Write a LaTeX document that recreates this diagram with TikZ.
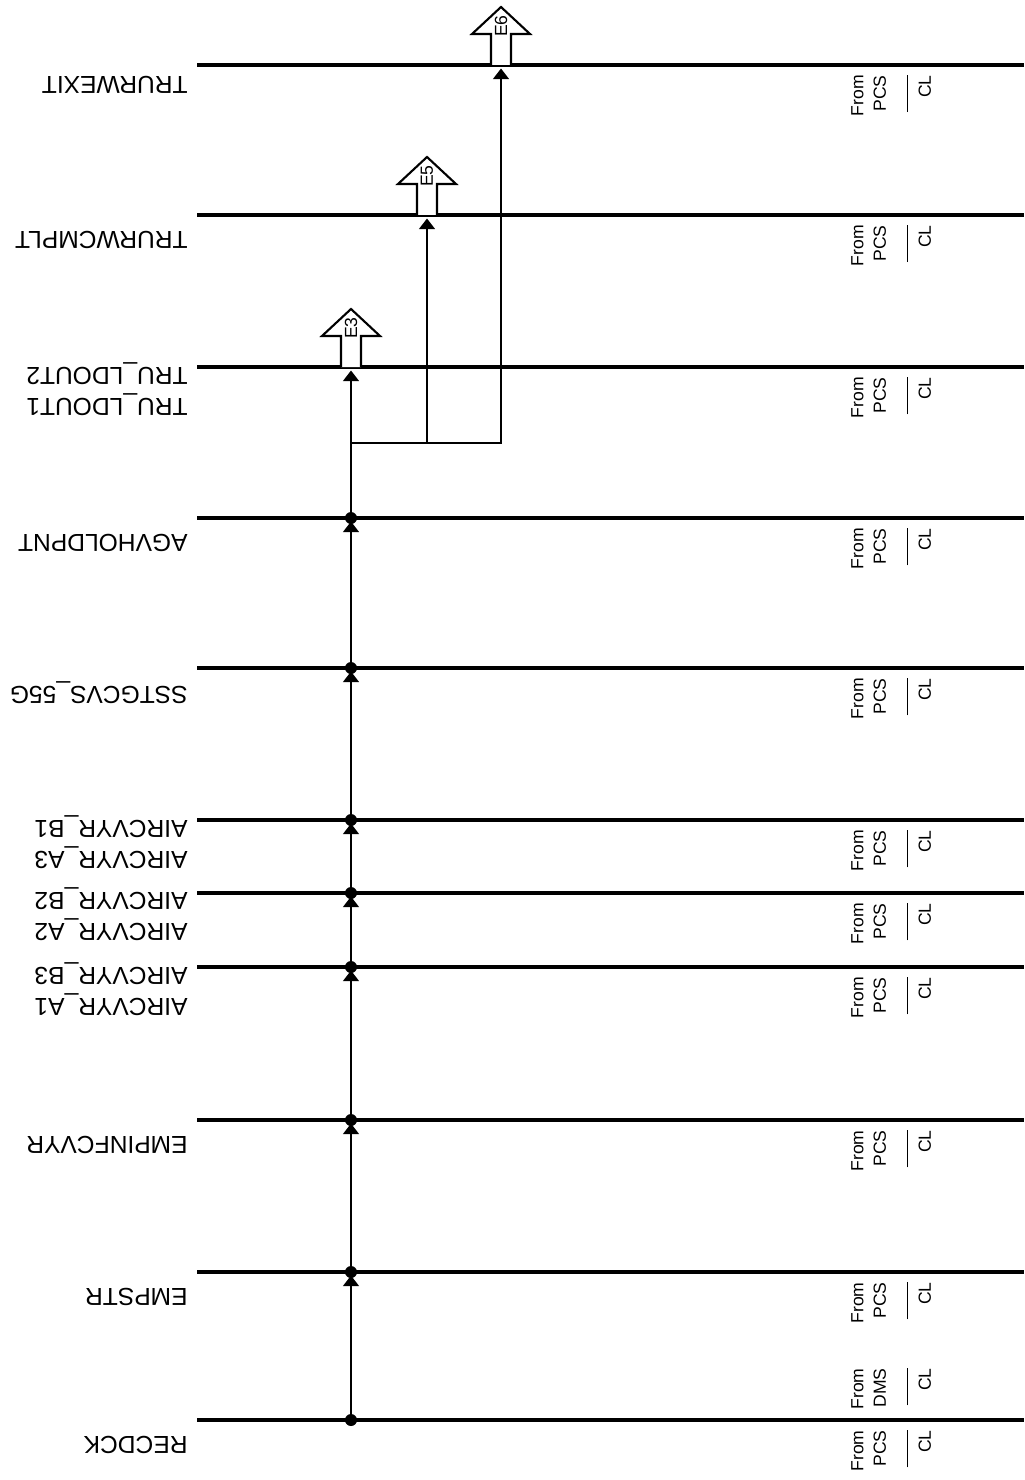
\documentclass[tikz,border=0pt]{standalone}
\usepackage{fontspec}
\setmainfont{Liberation Sans}
\usetikzlibrary{arrows.meta}

\begin{document}
\begin{tikzpicture}[
  x=0.02cm, y=-0.02cm,
  font=\fontsize{14}{17.6}\selectfont,
  >={Triangle[width=9pt,length=6pt]},
  rail/.style={line width=2pt},
  flow/.style={->, line width=1pt, shorten >=2pt},
  sig/.style={rotate=180, anchor=west, inner sep=0pt, align=left},
  srcnote/.style={rotate=90, anchor=north east, inner sep=0pt, align=right,
    font=\fontsize{10}{12.8}\selectfont},
  outarrow/.style={draw, line width=1.2pt, fill=white, line join=miter},
  evt/.style={rotate=90, inner sep=0pt, font=\fontsize{10}{11}\selectfont}
]
  \useasboundingbox (0,0) rectangle (1024,1480);

  % rails
  \draw[rail] (197,65) -- (1024,65);
  \draw[rail] (197,215) -- (1024,215);
  \draw[rail] (197,367) -- (1024,367);
  \draw[rail] (197,518) -- (1024,518);
  \draw[rail] (197,668) -- (1024,668);
  \draw[rail] (197,820) -- (1024,820);
  \draw[rail] (197,893) -- (1024,893);
  \draw[rail] (197,967) -- (1024,967);
  \draw[rail] (197,1120) -- (1024,1120);
  \draw[rail] (197,1272) -- (1024,1272);
  \draw[rail] (197,1420) -- (1024,1420);

  % signal names
  \node[sig] (trurwexit) at (188,85) {TRURWEXIT};
  \node[sig] (trurwcmplt) at (188,240) {TRURWCMPLT};
  \node[sig] (truldout) at (188,389) {TRU\_LDOUT1\\TRU\_LDOUT2};
  \node[sig] (agvholdpnt) at (188,543) {AGVHOLDPNT};
  \node[sig] (sstgcvs) at (188,693) {SSTGCVS\_55G};
  \node[sig] (aircvyrb1) at (188,842) {AIRCVYR\_A3\\AIRCVYR\_B1};
  \node[sig] (aircvyrb2) at (188,914) {AIRCVYR\_A2\\AIRCVYR\_B2};
  \node[sig] (aircvyrb3) at (188,989) {AIRCVYR\_A1\\AIRCVYR\_B3};
  \node[sig] (empinfcvyr) at (188,1145) {EMPINFCVYR};
  \node[sig] (empstr) at (188,1297) {EMPSTR};
  \node[sig] (recdck) at (188,1445) {RECDCK};

  % sources
  \node[srcnote] (srcA) at (851,75) {From\\PCS\\\rule{21pt}{0.9pt}\\CL};
  \node[srcnote] (srcB) at (851,225) {From\\PCS\\\rule{21pt}{0.9pt}\\CL};
  \node[srcnote] (srcC) at (851,377) {From\\PCS\\\rule{21pt}{0.9pt}\\CL};
  \node[srcnote] (srcD) at (851,528) {From\\PCS\\\rule{21pt}{0.9pt}\\CL};
  \node[srcnote] (srcE) at (851,678) {From\\PCS\\\rule{21pt}{0.9pt}\\CL};
  \node[srcnote] (srcF) at (851,830) {From\\PCS\\\rule{21pt}{0.9pt}\\CL};
  \node[srcnote] (srcG) at (851,903) {From\\PCS\\\rule{21pt}{0.9pt}\\CL};
  \node[srcnote] (srcH) at (851,977) {From\\PCS\\\rule{21pt}{0.9pt}\\CL};
  \node[srcnote] (srcI) at (851,1130) {From\\PCS\\\rule{21pt}{0.9pt}\\CL};
  \node[srcnote] (srcJ) at (851,1282) {From\\PCS\\\rule{21pt}{0.9pt}\\CL};
  \node[srcnote] (srcK) at (851,1368) {From\\DMS\\\rule{21pt}{0.9pt}\\CL};
  \node[srcnote] (srcL) at (851,1430) {From\\PCS\\\rule{21pt}{0.9pt}\\CL};

  % trunk
  \coordinate (j0) at (351,1420);
  \coordinate (j1) at (351,1272);
  \coordinate (j2) at (351,1120);
  \coordinate (j3) at (351,967);
  \coordinate (j4) at (351,893);
  \coordinate (j5) at (351,820);
  \coordinate (j6) at (351,668);
  \coordinate (j7) at (351,518);
  \coordinate (j8) at (351,367);
  \coordinate (b0) at (351,443);
  \coordinate (e5) at (427,215);
  \coordinate (e6) at (501,65);

  \draw[flow] (j0) -- (j1);
  \draw[flow] (j1) -- (j2);
  \draw[flow] (j2) -- (j3);
  \draw[flow] (j3) -- (j4);
  \draw[flow] (j4) -- (j5);
  \draw[flow] (j5) -- (j6);
  \draw[flow] (j6) -- (j7);
  \draw[flow] (j7) -- (j8);
  \draw[flow] (b0) -| (e5);
  \draw[flow] (b0) -| (e6);

  \fill (j0) circle (6);
  \fill (j1) circle (6);
  \fill (j2) circle (6);
  \fill (j3) circle (6);
  \fill (j4) circle (6);
  \fill (j5) circle (6);
  \fill (j6) circle (6);
  \fill (j7) circle (6);

  % events out
  \draw[outarrow] (j8) ++(-10,0) -- ++(0,-31) -- ++(-19,0) -- ++(29,-27)
    -- ++(29,27) -- ++(-19,0) -- ++(0,31);
  \draw[outarrow] (e5) ++(-10,0) -- ++(0,-31) -- ++(-19,0) -- ++(29,-27)
    -- ++(29,27) -- ++(-19,0) -- ++(0,31);
  \draw[outarrow] (e6) ++(-10,0) -- ++(0,-31) -- ++(-19,0) -- ++(29,-27)
    -- ++(29,27) -- ++(-19,0) -- ++(0,31);
  \node[evt] (evE3) at (351,328) {E3};
  \node[evt] (evE5) at (427,176) {E5};
  \node[evt] (evE6) at (501,26) {E6};
\end{tikzpicture}
\end{document}
